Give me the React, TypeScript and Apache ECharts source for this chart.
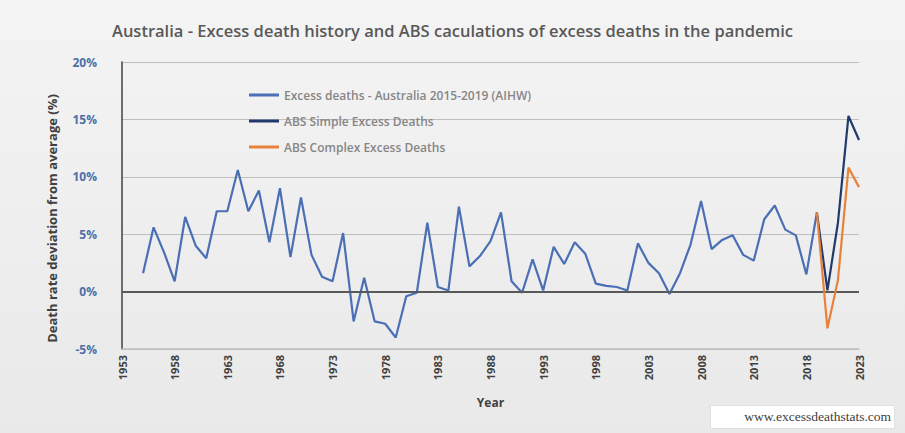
import React, { useEffect, useRef } from "react";
import * as echarts from "echarts";

const years: string[] = [];
for (let y = 1953; y <= 2023; y++) years.push(String(y));

// Excess deaths - Australia (AIHW), 1955..2019
const historyValues: number[] = [
  1.6, 5.6, 3.4, 0.9, 6.5, 4.0, 2.9, 7.0, 7.0, 10.6,
  7.0, 8.8, 4.3, 9.0, 3.0, 8.2, 3.2, 1.3, 0.9, 5.1,
  -2.6, 1.2, -2.6, -2.8, -4.0, -0.4, -0.1, 6.0, 0.4, 0.1,
  7.4, 2.2, 3.1, 4.4, 6.9, 0.9, -0.1, 2.8, 0.1, 3.9,
  2.4, 4.3, 3.3, 0.7, 0.5, 0.4, 0.1, 4.2, 2.5, 1.6,
  -0.2, 1.6, 4.1, 7.9, 3.7, 4.5, 4.9, 3.2, 2.7, 6.3,
  7.5, 5.4, 4.9, 1.5, 6.9,
];
const historyStart = 1955;

// ABS series, 2019..2023
const absYears = [2019, 2020, 2021, 2022, 2023];
const absSimple: number[] = [6.9, 0.1, 6.0, 15.3, 13.2];
const absComplex: number[] = [6.9, -3.2, 1.0, 10.8, 9.1];

const yTicks = { min: -5, max: 20, interval: 5 };

function place(startYear: number, vals: number[]): (number | null)[] {
  return years.map((y) => {
    const i = Number(y) - startYear;
    return i >= 0 && i < vals.length ? vals[i] : null;
  });
}

const FONT = "Open Sans";

export default function App() {
  const ref = useRef<HTMLDivElement>(null);
  useEffect(() => {
    if (!ref.current) return;
    const chart = echarts.init(ref.current, undefined, { renderer: "svg" });
    chart.setOption({
      animation: false,
      backgroundColor: {
        type: "linear", x: 0, y: 0, x2: 0, y2: 1,
        colorStops: [
          { offset: 0, color: "#f4f4f4" },
          { offset: 1, color: "#e9e9e9" },
        ],
      },
      title: {
        text: "Australia - Excess death history and ABS caculations of excess deaths in the pandemic",
        left: "center",
        top: 17,
        textStyle: { fontFamily: FONT, fontSize: 16.5, fontWeight: 600, color: "#595959" },
      },
      legend: {
        orient: "vertical",
        left: 244,
        top: 82,
        itemGap: 10,
        itemWidth: 30,
        itemHeight: 3,
        icon: "rect",
        textStyle: { fontFamily: FONT, fontSize: 12, fontWeight: 600, color: "#868686", lineHeight: 16 },
        data: [
          "Excess deaths - Australia 2015-2019 (AIHW)",
          "ABS Simple Excess Deaths",
          "ABS Complex Excess Deaths",
        ],
      },
      grid: { left: 122, right: 46, top: 62, bottom: 84 },
      xAxis: {
        type: "category",
        data: years,
        boundaryGap: false,
        name: "Year",
        nameLocation: "middle",
        nameGap: 47,
        nameTextStyle: { fontFamily: FONT, fontSize: 12, fontWeight: 700, color: "#404040" },
        axisLine: { onZero: false, lineStyle: { color: "#bfbfbf", width: 1.5 } },
        axisTick: { show: false },
        splitLine: { show: false },
        axisLabel: {
          interval: 4,
          rotate: 90,
          margin: 6,
          fontFamily: FONT,
          fontSize: 11,
          fontWeight: 700,
          color: "#404040",
        },
      },
      yAxis: {
        type: "value",
        min: yTicks.min,
        max: yTicks.max,
        interval: yTicks.interval,
        name: "Death rate deviation from average (%)",
        nameLocation: "middle",
        nameGap: 64,
        nameRotate: 90,
        nameTextStyle: {
          fontFamily: FONT, fontSize: 13, fontWeight: 700, color: "#404040",
          padding: [0, 26, 0, 0],
        },
        axisLine: { show: true, lineStyle: { color: "#404040", width: 1.5 } },
        axisTick: { show: false },
        splitLine: { lineStyle: { color: "#bfbfbf", width: 1.2 } },
        axisLabel: {
          formatter: "{value}%",
          margin: 25,
          fontFamily: FONT,
          fontSize: 12,
          fontWeight: 700,
          color: "#4e6ea8",
        },
      },
      series: [
        {
          name: "Excess deaths - Australia 2015-2019 (AIHW)",
          type: "line",
          data: place(historyStart, historyValues),
          showSymbol: false,
          symbol: "none",
          connectNulls: false,
          itemStyle: { color: "#4a6fb5" },
          lineStyle: { color: "#4a6fb5", width: 2.2 },
          markLine: {
            silent: true,
            symbol: "none",
            label: { show: false },
            lineStyle: { color: "#595959", width: 2, type: "solid" },
            data: [{ yAxis: 0 }],
          },
          z: 3,
        },
        {
          name: "ABS Simple Excess Deaths",
          type: "line",
          data: place(absYears[0], absSimple),
          symbol: "none",
          itemStyle: { color: "#213a6b" },
          lineStyle: { color: "#213a6b", width: 2.2 },
          z: 4,
        },
        {
          name: "ABS Complex Excess Deaths",
          type: "line",
          data: place(absYears[0], absComplex),
          symbol: "none",
          itemStyle: { color: "#e8823a" },
          lineStyle: { color: "#e8823a", width: 2.2 },
          z: 5,
        },
      ],
      graphic: [
        {
          type: "rect",
          right: 10,
          top: 405,
          shape: { width: 184, height: 23 },
          style: { fill: "#ffffff", stroke: "#e0e0e0" },
        },
        {
          type: "text",
          right: 14,
          top: 409,
          style: {
            text: "www.excessdeathstats.com",
            font: "13.5px 'Liberation Serif'",
            fill: "#404040",
          },
        },
      ],
    });
    return () => chart.dispose();
  }, []);
  return (
    <div
      ref={ref}
      style={{ position: "absolute", left: 0, top: 0, width: 905, height: 433 }}
    />
  );
}
